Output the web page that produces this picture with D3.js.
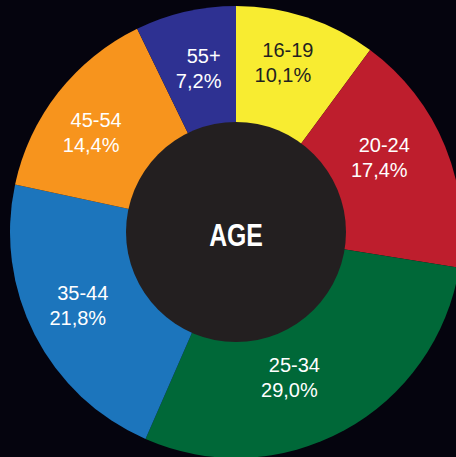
<!DOCTYPE html>
<html>
<head>
<meta charset="utf-8">
<script src="https://cdn.jsdelivr.net/npm/d3@7"></script>
<style>
  html, body { margin: 0; padding: 0; background: #05040e; }
  svg { display: block; }
</style>
</head>
<body>
<div id="chart"></div>
<script>
// --- data ---
const ageGroups = ['16-19', '20-24', '25-34', '35-44', '45-54', '55+'];
const shares    = [10.1, 17.4, 29.0, 21.8, 14.4, 7.2];
const sliceColors = ['#f8ec31', '#be1e2d', '#006838', '#1c75bc', '#f7941d', '#2e3192'];
const labelColors = ['#231f20', '#ffffff', '#ffffff', '#ffffff', '#ffffff', '#ffffff'];
const centerTitle = 'AGE';

// chart dimensions
const width = 456;
const height = 457;
const cx = 236, cy = 232;
const outerR = 226, innerR = 110;

let myData = ageGroups.map((g, i) => ({group: g, share: shares[i], color: sliceColors[i], label: labelColors[i]}));

const svg = d3.select('#chart')
    .append('svg')
        .attr('width', width)
        .attr('height', height);

svg.append('rect')
    .attr('width', width)
    .attr('height', height)
    .attr('fill', '#05040e');

let g = svg.append('g')
    .attr('transform', `translate(${cx},${cy})`);

let pie = d3.pie()
    .value(d => d.share)
    .sort(null);

let arc = d3.arc()
    .innerRadius(0)
    .outerRadius(outerR);

let arcs = pie(myData);

g.selectAll('path.slice')
    .data(arcs)
    .join('path')
        .attr('class', 'slice')
        .attr('d', arc)
        .attr('fill', d => d.data.color);

// center disc
g.append('circle')
    .attr('r', innerR)
    .attr('fill', '#231f20');

g.append('text')
    .text(centerTitle)
    .attr('transform', 'translate(0,14) scale(0.8,1)')
    .attr('text-anchor', 'middle')
    .style('font-family', '"Liberation Sans", Arial, sans-serif')
    .style('font-weight', 'bold')
    .style('font-size', '31px')
    .style('fill', '#ffffff');

// labels - small angle / radius tweaks so they sit like the original
const labelTweak = {
    '16-19': {da: -2, r: 177},
    '20-24': {da: -5, r: 164},
    '25-34': {da: 7.5, r: 155},
    '35-44': {da: 2, r: 172},
    '45-54': {da: -3, r: 174},
    '55+':   {da: 1, r: 168}
};

let labels = g.selectAll('g.label')
    .data(arcs)
    .join('g')
        .attr('class', 'label')
        .attr('transform', d => {
            let t = labelTweak[d.data.group];
            let a = (d.startAngle + d.endAngle) / 2 + t.da * Math.PI / 180;
            return `translate(${t.r * Math.sin(a)},${-t.r * Math.cos(a)})`;
        })
        .style('font-family', '"Liberation Sans", Arial, sans-serif')
        .style('font-size', '20px')
        .attr('text-anchor', 'middle')
        .style('fill', d => d.data.label);

labels.append('text')
    .attr('x', 2.5)
    .attr('y', -5)
    .text(d => d.data.group);

labels.append('text')
    .attr('x', -2.5)
    .attr('y', 20)
    .text(d => d.data.share.toFixed(1).replace('.', ',') + '%');
</script>
</body>
</html>
